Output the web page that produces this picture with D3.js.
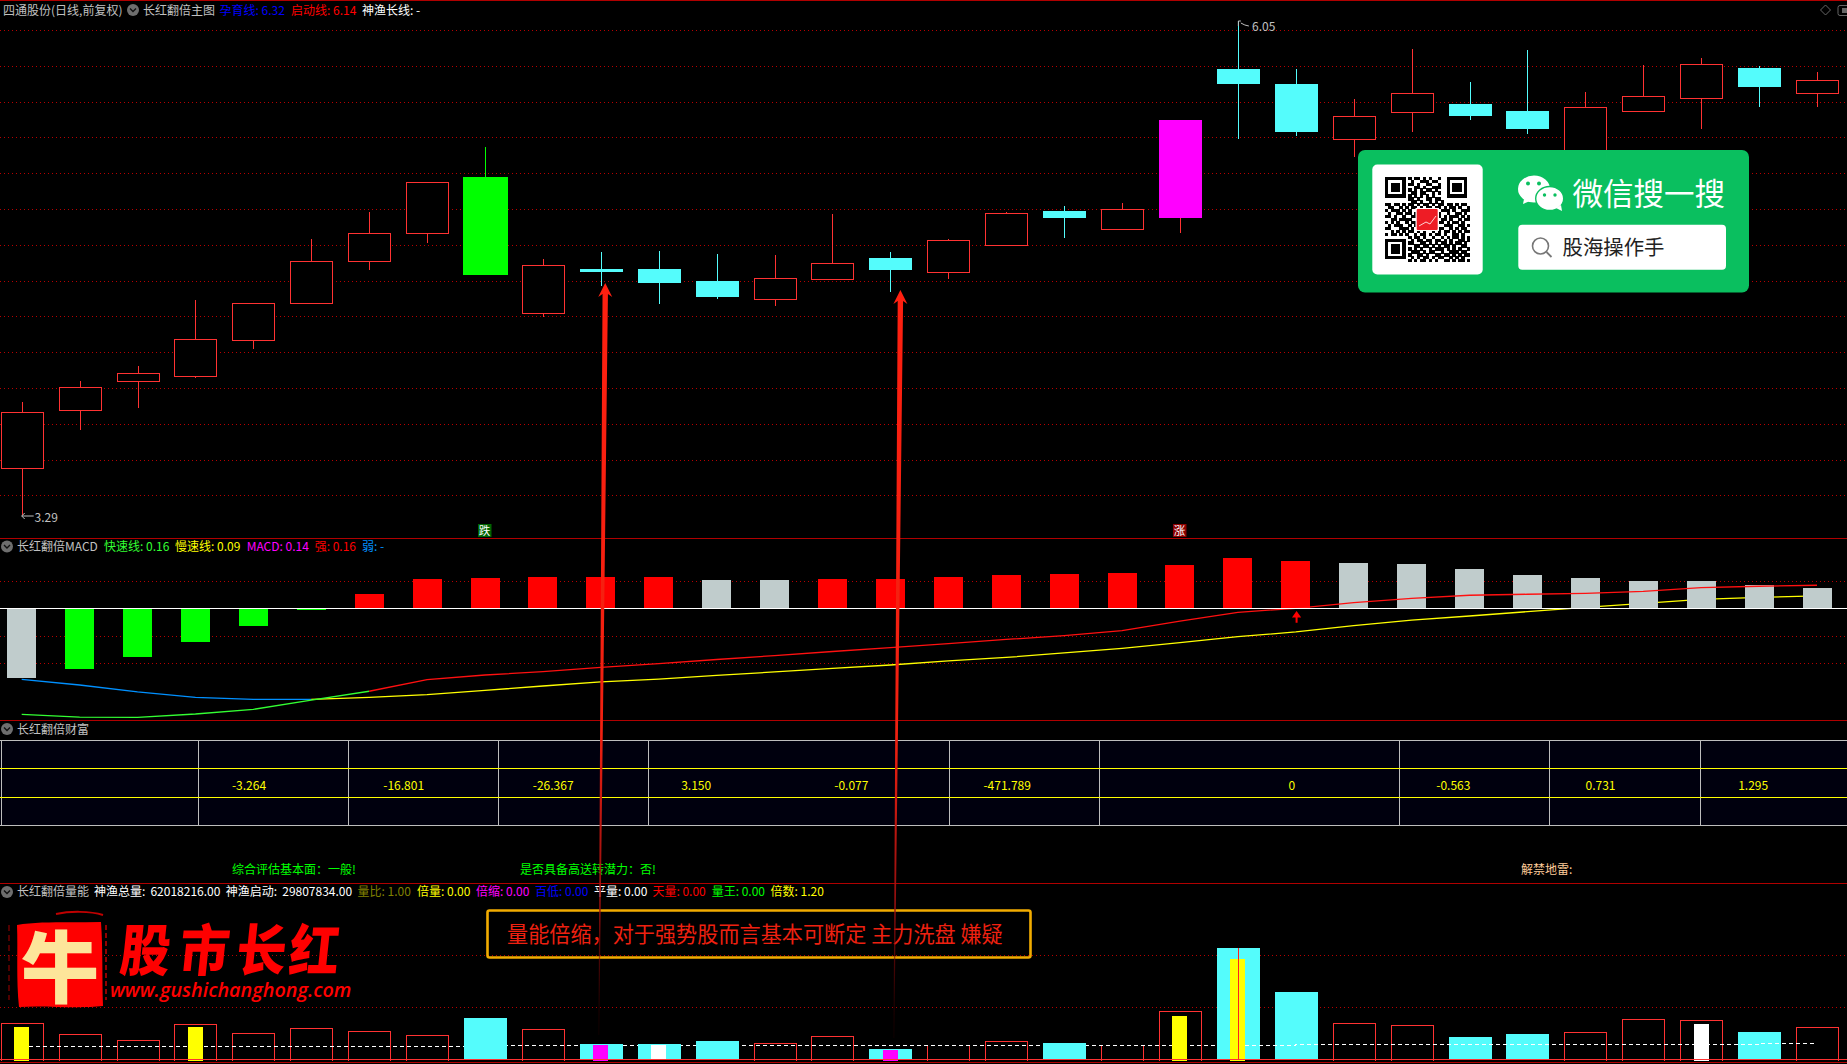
<!DOCTYPE html>
<html><head><meta charset="utf-8">
<style>html,body{margin:0;padding:0;background:#000;overflow:hidden}svg{display:block}
text{font-family:"Noto Sans CJK SC","Noto Sans",sans-serif;font-size:12px;dominant-baseline:central}</style>
<script src="https://cdn.jsdelivr.net/npm/d3@7/dist/d3.min.js"></script></head><body>
<script>
// ---------- data ----------
const opens=[3.549,3.873,4.040,4.063,4.269,4.471,4.705,4.862,5.178,4.415,4.664,4.664,4.597,4.493,4.605,4.726,4.644,4.795,4.988,4.884,4.949,5.782,5.698,5.389,5.538,5.586,5.547,5.190,5.543,5.616,5.787,5.644];
const closes=[3.864,4.003,4.082,4.272,4.473,4.707,4.864,5.149,4.631,4.685,4.648,4.586,4.508,4.613,4.696,4.659,4.825,4.976,4.949,4.998,5.497,5.698,5.430,5.518,5.646,5.519,5.447,5.568,5.629,5.808,5.681,5.719];
const highs=[3.921,4.037,4.122,4.491,4.473,4.832,4.981,5.149,5.346,4.720,4.759,4.765,4.748,4.743,4.972,4.759,4.832,4.983,5.016,5.033,5.497,6.05,5.782,5.614,5.892,5.709,5.888,5.653,5.804,5.843,5.799,5.765];
const lows=[3.29,3.765,3.888,4.055,4.217,4.471,4.659,4.811,4.631,4.398,4.571,4.469,4.497,4.458,4.605,4.536,4.607,4.795,4.838,4.884,4.866,5.391,5.408,5.290,5.430,5.497,5.419,5.190,5.543,5.447,5.570,5.570];
const priceGrid=[6.0,5.8,5.6,5.4,5.2,5.0,4.8,4.6,4.4,4.2,4.0,3.8,3.6,3.4];
const macdBars=[-0.480,-0.419,-0.336,-0.232,-0.122,-0.012,0.099,0.202,0.209,0.216,0.216,0.216,0.195,0.195,0.202,0.202,0.216,0.230,0.237,0.243,0.299,0.347,0.326,0.312,0.306,0.271,0.230,0.209,0.188,0.188,0.161,0.140];
const macdGrayIdx=[0,12,13,23,24,25,26,27,28,29,30,31];
const fastLine=[-0.731,-0.750,-0.752,-0.729,-0.697,-0.634,-0.572,-0.492,-0.460,-0.437,-0.407,-0.381,-0.353,-0.326,-0.298,-0.271,-0.243,-0.215,-0.188,-0.154,-0.088,-0.028,0,0.039,0.069,0.090,0.097,0.103,0.117,0.142,0.152,0.159];
const slowLine=[-0.490,-0.529,-0.577,-0.614,-0.628,-0.628,-0.614,-0.596,-0.566,-0.536,-0.508,-0.488,-0.463,-0.439,-0.415,-0.391,-0.363,-0.339,-0.308,-0.276,-0.237,-0.196,-0.163,-0.120,-0.081,-0.053,-0.023,0.007,0.034,0.062,0.076,0.085];
const macdGrid=[0.19,-0.19,-0.375];
const volumes=[13.9,9.7,7.4,13.5,10.1,12.0,10.8,9.3,15.9,11.6,6.0,6.0,7.1,6.3,8.9,4.1,5.5,7.0,6.4,5.5,18.5,42.6,25.8,13.9,13.1,8.7,9.8,10.5,15.4,15.0,10.6,12.4];
const volFilledIdx=[8,10,11,12,15,18,21,22,25,26,30];
const volInner=[[0,12.5,"#ffff00"],[3,12.5,"#ffff00"],[10,5.6,"#ff00ff"],[11,5.5,"#ffffff"],[15,3.7,"#ff00ff"],[20,16.7,"#ffff00"],[21,38.4,"#ffff00"],[29,13.6,"#ffffff"]];
const volMean=[5.1,5.1,5.1,5.1,5.1,5.1,5.1,5.1,5.5,5.5,5.5,5.5,5.5,5.5,5.5,5.5,5.5,5.5,5.5,5.5,5.5,5.5,5.9,5.9,5.9,5.9,5.9,5.9,5.9,5.9,6.3,6.3];
const volGrid=[20,40];
const tableValues=["-3.264","-16.801","-26.367","3.150","-0.077","-471.789","0","-0.563","0.731","1.295"];
const header1=["四通股份(日线,前复权)","长红翻倍主图","孕育线: 6.32","启动线: 6.14","神渔长线: -"];
const header2=["长红翻倍MACD","快速线: 0.16","慢速线: 0.09","MACD: 0.14","强: 0.16","弱: -"];
const header4=["长红翻倍量能","神渔总量: 62018216.00","神渔启动: 29807834.00","量比: 1.00","倍量: 0.00","倍缩: 0.00","百低: 0.00","平量: 0.00","天量: 0.00","量王: 0.00","倍数: 1.20"];
const notes=["综合评估基本面：一般!","是否具备高送转潜力：否!","解禁地雷:"];
const qrRows=["00000000101101010010000000000","00000000010011101100000000000","00000000110100110010000000000","00000000001101001110000000000","00000000101010110100000000000","00000000011011001010000000000","00000000101010101000000000000","00000000110100110110000000000","00000000011010010101000000000","11011010110101101011011010110","01100101011010110110101101001","10111010100110101001110100111","01001101101011010110010011010","11010010011001011010101110101","00110111100110100101101001011","10101001011010011011010110100","01011100101101100100111001101","11000111010010110111001010110","00101010110101001010110101011","10110101001011010110100110100","00000000101101001001010110101","00000000010110110110101001101","00000000110011010101101011010","00000000001101101010110100110","00000000101010010111010101001","00000000011101011001001110110","00000000100110100110110101011","00000000010101101011001010100","00000000101011010100110101101"];

// ---------- layout ----------
const W=1847,H=1064;
const paneLines=[0.5,538.5,720.5,883.5,1062.5];
const tableCols=[1,198,348,498,648,949,1099,1399,1549,1700];
const tableCenters=[249,403.7,553.2,696.2,851.3,1007.2,1291.9,1453.3,1600.5,1753.2];
const svg=d3.select("body").append("svg").attr("width",W).attr("height",H).attr("viewBox",`0 0 ${W} ${H}`);
svg.append("rect").attr("width",W).attr("height",H).attr("fill","#000");
const defs=svg.append("defs");
const crisp=svg.append("g").attr("shape-rendering","crispEdges");

const idx=d3.range(opens.length);
const x=d3.scaleLinear().domain([0,31]).range([21.7,1817]);
const yP=d3.scaleLinear().domain([3.29,6.05]).range([515,21]);
const yM=d3.scaleLinear().domain([-0.8,0.4]).range([724.3,550.3]);
const yV=d3.scaleLinear().domain([0,40]).range([1059.7,954.9]);
const px=v=>Math.round(v)+0.5;
const RED="#ff3232",CYAN="#54fcfc",GRID="#b80000",BORDER="#b00000";

function hGrid(vals,scale){
  crisp.append("g").selectAll("line").data(vals).join("line")
   .attr("x1",0).attr("x2",W).attr("y1",d=>px(scale(d))).attr("y2",d=>px(scale(d)))
   .attr("stroke",GRID).attr("stroke-dasharray","1,3");
}
hGrid(priceGrid,yP);hGrid(macdGrid,yM);hGrid(volGrid,yV);

crisp.append("g").selectAll("line").data(paneLines).join("line")
 .attr("x1",0).attr("x2",W).attr("y1",d=>d).attr("y2",d=>d).attr("stroke",BORDER).attr("stroke-width",1);

// candles
const highlight={8:"#00ff00",20:"#ff00ff"};
const hollow=i=>closes[i]>=opens[i]&&!highlight[i];
const wickCol=i=>i===8?"#00ff00":(closes[i]>=opens[i]?RED:CYAN);
const gC=crisp.append("g");
gC.selectAll(".wick").data(idx).join("line").attr("class","wick")
 .attr("x1",i=>px(x(i))).attr("x2",i=>px(x(i))).attr("y1",i=>yP(highs[i])).attr("y2",i=>yP(lows[i]))
 .attr("stroke",wickCol);
gC.selectAll(".body").data(idx).join("rect").attr("class","body")
 .attr("x",i=>Math.round(x(i)-(i===8?22:21))+(hollow(i)?0.5:0))
 .attr("width",i=>hollow(i)?42:(i===8?45:43))
 .attr("y",i=>Math.round(yP(Math.max(opens[i],closes[i])))+(hollow(i)?0.5:0))
 .attr("height",i=>Math.max(2,Math.round(Math.abs(yP(opens[i])-yP(closes[i])))))
 .attr("fill",i=>highlight[i]||(closes[i]>=opens[i]?"#000":CYAN))
 .attr("stroke",i=>hollow(i)?RED:"none");

function label(sel,str,xp,yp,col,anchor){return sel.append("text").attr("x",xp).attr("y",yp).attr("fill",col).attr("text-anchor",anchor||"start").text(str);}
// extreme labels
const hiI=highs.indexOf(d3.max(highs)),loI=lows.indexOf(d3.min(lows));
svg.append("path").attr("d",`M${x(hiI)+.5},${yP(highs[hiI])+5}V${yP(highs[hiI])}H${x(hiI)+3}M${x(hiI)+3},${yP(highs[hiI])+2}l4,2l4,1`).attr("fill","none").attr("stroke","#c0c0c0");
label(svg,d3.format(".2f")(highs[hiI]),1252,25.5,"#c0c0c0");
svg.append("path").attr("d",`M${x(loI)+12},${yP(lows[loI])+1}H${x(loI)}m3,-3l-3,3l3,3`).attr("fill","none").attr("stroke","#c0c0c0");
label(svg,d3.format(".2f")(lows[loI]),34.5,516.3,"#c0c0c0");

// 跌 / 涨 tags
[[8,"跌","#006400"],[20,"涨","#8b0000"]].forEach(([i,t,c])=>{
  svg.append("rect").attr("x",x(i)-7).attr("y",524).attr("width",13.5).attr("height",13).attr("fill",c);
  label(svg,t,x(i)-0.5,529.8,"#fff","middle").style("font-size","11.5px");
});

// MACD
const seg=(arr,a,b,col,g)=>g.append("path").attr("fill","none").attr("stroke",col).attr("stroke-width",1.3)
  .attr("d",d3.line().x(i=>x(i)).y(i=>yM(arr[i])).curve(d3.curveLinear)(d3.range(a,b+1)));
const gM=svg.append("g");
seg(slowLine,0,5,"#0090ff",gM);seg(slowLine,5,31,"#ffff00",gM);
const gBar=svg.append("g").attr("shape-rendering","crispEdges");
gBar.selectAll("rect").data(idx).join("rect")
 .attr("x",i=>Math.round(x(i)-14.5)).attr("width",29)
 .attr("y",i=>Math.round(macdBars[i]>=0?yM(macdBars[i]):yM(0)))
 .attr("height",i=>Math.max(1,Math.round(Math.abs(yM(macdBars[i])-yM(0)))))
 .attr("fill",i=>macdGrayIdx.includes(i)?"#c0cccc":(macdBars[i]<0?"#00ff00":"#ff0000"));
const gF=svg.append("g");
seg(fastLine,0,6,"#33ff33",gF);seg(fastLine,6,31,"#ff1010",gF);
svg.append("line").attr("x1",0).attr("x2",W).attr("y1",yM(0)).attr("y2",yM(0)).attr("stroke","#fff").attr("stroke-width",1.4).attr("shape-rendering","crispEdges");
{const ax=x(22)+.8,at=yM(-0.019),ab=yM(-0.099);
 svg.append("path").attr("fill","#ff0000").attr("d",`M${ax},${at}L${ax+4.6},${at+6.5}H${ax+1}V${ab}H${ax-1}V${at+6.5}H${ax-4.6}Z`);}

// table
const gT=svg.append("g").attr("shape-rendering","crispEdges");
gT.append("rect").attr("x",0).attr("y",740.5).attr("width",W).attr("height",85).attr("fill","#00000e");
gT.selectAll(".c").data(tableCols).join("line").attr("class","c").attr("x1",d=>d+.5).attr("x2",d=>d+.5).attr("y1",740.5).attr("y2",825.5).attr("stroke","#bdbdbd");
[740.5,825.5].forEach(y=>gT.append("line").attr("x1",0).attr("x2",W).attr("y1",y).attr("y2",y).attr("stroke","#bdbdbd"));
[768.5,797.5].forEach(y=>gT.append("line").attr("x1",0).attr("x2",W).attr("y1",y).attr("y2",y).attr("stroke","#ffff00"));
svg.append("g").selectAll("text").data(tableValues).join("text").attr("x",(d,i)=>tableCenters[i]).attr("y",784).attr("text-anchor","middle").attr("fill","#ffff00").text(d=>d);
const noteX=[232,520,1521],noteC=["#00ff00","#00ff00","#ffcc99"];
svg.append("g").selectAll("text").data(notes).join("text").attr("x",(d,i)=>noteX[i]).attr("y",868).attr("fill",(d,i)=>noteC[i]).text(d=>d);

// volume
const isFill=i=>volFilledIdx.includes(i);
const gV=svg.append("g").attr("shape-rendering","crispEdges");
const dash=(a,b,g)=>g.append("path").attr("fill","none").attr("stroke","#fff").attr("stroke-width",1.2).attr("stroke-dasharray","4,3")
  .attr("d",d3.line().x(i=>x(i)).y(i=>Math.round(yV(volMean[i]))+.5).curve(d3.curveStepAfter)(d3.range(a,b+1)));
const hollowIdx=idx.filter(i=>!isFill(i)),fillIdx=idx.filter(isFill);
// hollow bars lose their cap when the mean line sits on top of it
gV.selectAll(".vh").data(hollowIdx).join("path").attr("class","vh").attr("fill","none").attr("stroke",RED)
 .attr("d",i=>{const l=Math.round(x(i)-21)+.5,r=l+42,t=Math.round(yV(volumes[i]))+.5,b=Math.round(yV(0))+.5;
   return volumes[i]>volMean[i]?`M${l},${b}V${t}H${r}V${b}`:`M${l},${b}V${t}M${r},${t}V${b}`;});
dash(0,21,gV);
gV.selectAll(".vb").data(fillIdx).join("rect").attr("class","vb")
 .attr("x",i=>Math.round(x(i)-21)).attr("width",43)
 .attr("y",i=>Math.round(yV(volumes[i])))
 .attr("height",i=>Math.round(yV(0)-yV(volumes[i])))
 .attr("fill",CYAN);
dash(21,31,gV);
gV.selectAll(".vi").data(volInner).join("rect").attr("class","vi")
 .attr("x",d=>Math.round(x(d[0])-7.5)).attr("width",15)
 .attr("y",d=>Math.round(yV(d[1]))).attr("height",d=>Math.round(yV(0)-yV(d[1])+1))
 .attr("fill",d=>d[2]);
gV.append("line").attr("x1",px(x(21))).attr("x2",px(x(21))).attr("y1",yV(volumes[21])).attr("y2",yV(0)).attr("stroke","#ff2020");
gV.append("line").attr("x1",0).attr("x2",W).attr("y1",1059.5).attr("y2",1059.5).attr("stroke",RED);

// headers
function collapseIcon(cx,cy){
  svg.append("circle").attr("cx",cx).attr("cy",cy).attr("r",6).attr("fill","#6e6e6e");
  svg.append("path").attr("d",`M${cx-3},${cy-1.5}L${cx},${cy+1.5}L${cx+3},${cy-1.5}`).attr("fill","none").attr("stroke","#111").attr("stroke-width",1.4);
}
function headerRow(strs,xs,cols,y,wide){svg.append("g").selectAll("text").data(strs).join("text").attr("x",(d,i)=>xs[i]).attr("y",y).attr("fill",(d,i)=>cols[i]).style("word-spacing",(d,i)=>wide&&wide.includes(i)?"2.4px":null).text(d=>d);}
headerRow(header1,[3,143,219.5,291,362],["#c0c0c0","#c0c0c0","#0000ff","#ff0000","#ffffff"],9.5);
collapseIcon(133,10);
headerRow(header2,[17,104,175,246.7,314.7,362],["#c0c0c0","#33ff33","#ffff00","#ff00ff","#ff0000","#0090ff"],545.5);
collapseIcon(7,546.5);
headerRow(["长红翻倍财富"],[17],["#c0c0c0"],728);
collapseIcon(7,729);
headerRow(header4,[17,94,225.8,357.5,417,476,535,594,652.4,711.7,770.6],["#c0c0c0","#fff","#fff","#808000","#ffff00","#ff00ff","#0000ff","#fff","#ff0000","#00ff00","#ffff00"],890.5,[1,2]);
collapseIcon(7,892);
// top right window icons
svg.append("path").attr("d",`M1825.5,5l5,5l-5,5l-5,-5Z`).attr("fill","none").attr("stroke","#666");
svg.append("rect").attr("x",1838).attr("y",5.5).attr("width",12).attr("height",10).attr("rx",2).attr("fill","none").attr("stroke","#666");
svg.append("rect").attr("x",1842).attr("y",8).attr("width",5).attr("height",5).attr("fill","#666");

// logo
const logoPath="M17,925 C40,921 70,923 101,922 C103,950 102,980 103,1006 C75,1009 45,1005 19,1007 C16,980 18,950 17,925Z";
svg.append("path").attr("d",logoPath).attr("fill","#fe0000");
svg.append("path").attr("d","M56,914 C70,911 90,911 103,915").attr("fill","none").attr("stroke","#c00000").attr("stroke-width",2);
svg.append("path").attr("d","M106,925V1000").attr("fill","none").attr("stroke","#c00000").attr("stroke-width",1.5).attr("stroke-dasharray","5,3");
svg.append("path").attr("d","M9,925V1000").attr("fill","none").attr("stroke","#a00000").attr("stroke-width",1).attr("stroke-dasharray","6,4");
label(svg,"牛",60,963,"#fde59a","middle").style("font-size","78px").style("font-weight",900);
const brand=["股","市","长","红"],brandX=[146,205,262,315];
svg.append("g").selectAll("text").data(brand).join("text").attr("transform",(d,i)=>`translate(${brandX[i]},946) skewX(-6) scale(1,1.12)`).attr("text-anchor","middle").attr("fill","#fe0000").style("font-size","50px").style("font-weight",900).text(d=>d);
label(svg,"www.gushichanghong.com",110,989,"#fe0000").style("font-family","'Open Sans'").style("font-style","italic").style("font-size","19.8px").style("font-weight",600);

// annotation box
svg.append("rect").attr("x",487.5).attr("y",910.5).attr("width",543).attr("height",47).attr("rx",2).attr("fill","none").attr("stroke","#f2ac00").attr("stroke-width",2.6);
label(svg,"量能倍缩，对于强势股而言基本可断定 主力洗盘 嫌疑",507,932,"#ee2010").style("font-size","21.15px");

// long annotation arrows
function bigArrow(id,tipX,tipY,baseX,baseY){
  const g=defs.append("linearGradient").attr("id",id).attr("gradientUnits","userSpaceOnUse").attr("x1",0).attr("x2",0).attr("y1",tipY).attr("y2",baseY);
  [[0,"#ff2010",1],[.6,"#f02010",1],[.82,"#a01010",.9],[1,"#500000",.2]].forEach(s=>g.append("stop").attr("offset",s[0]).attr("stop-color",s[1]).attr("stop-opacity",s[2]));
  svg.append("path").attr("fill",`url(#${id})`).attr("d",`M${tipX},${tipY}L${tipX+7},${tipY+14}L${tipX+2.7},${tipY+11}L${baseX+.4},${baseY}H${baseX-.4}L${tipX-2.7},${tipY+11}L${tipX-7},${tipY+14}Z`);
}
bigArrow("a1",x(10)+4.4,yP(4.586),x(10)-2,1035);
bigArrow("a2",x(15)+10,yP(4.547),x(15)+3.5,1038);

// WeChat card
const GREEN="#0abf5f";
svg.append("rect").attr("x",1358).attr("y",150).attr("width",391).attr("height",142.5).attr("rx",7).attr("fill",GREEN);
svg.append("rect").attr("x",1372.3).attr("y",164.5).attr("width",110.4).attr("height",110).attr("rx",5).attr("fill","#fff");
const qx=1384.7,qy=176.7,qs=85.4/29;
const gQ=svg.append("g").attr("shape-rendering","crispEdges");
const cells=[];qrRows.forEach((r,j)=>r.split("").forEach((c,i)=>{if(c==="1")cells.push([i,j])}));
[[0,0],[21,0],[0,21]].forEach(([ox,oy])=>{for(let j=0;j<7;j++)for(let i=0;i<7;i++){
  if(i===0||i===6||j===0||j===6||(i>=2&&i<=4&&j>=2&&j<=4))cells.push([ox+i,oy+j]);}});
gQ.selectAll("rect").data(cells).join("rect").attr("x",d=>qx+d[0]*qs).attr("y",d=>qy+d[1]*qs).attr("width",qs+.3).attr("height",qs+.3).attr("fill","#000");
svg.append("rect").attr("x",1415.5).attr("y",208).attr("width",23.5).attr("height",23).attr("fill","#fff");
svg.append("rect").attr("x",1416.7).attr("y",209).attr("width",21).attr("height",21).attr("rx",1).attr("fill","#ee1c25");
svg.append("path").attr("d","M1419,226L1426,222L1430,224L1436,216").attr("fill","none").attr("stroke","#fff").attr("stroke-width",.8);
// wechat bubbles
svg.append("ellipse").attr("cx",1534).attr("cy",189).attr("rx",16).attr("ry",13.5).attr("fill","#fff");
svg.append("path").attr("d","M1524,199l-1,5l7,-3Z").attr("fill","#fff");
svg.append("ellipse").attr("cx",1549.7).attr("cy",198.5).attr("rx",14).attr("ry",12).attr("fill","#fff").attr("stroke",GREEN).attr("stroke-width",1.4);
svg.append("path").attr("d","M1556,208l6,3l-1,-6Z").attr("fill","#fff");
[[1528,183.5,2],[1539,183.5,2],[1544.5,195,1.7],[1555,195,1.7]].forEach(d=>svg.append("circle").attr("cx",d[0]).attr("cy",d[1]).attr("r",d[2]).attr("fill",GREEN));
label(svg,"微信搜一搜",1572.5,191.5,"#fff").style("font-size","30.5px").style("font-weight",400);
svg.append("rect").attr("x",1518.3).attr("y",224.7).attr("width",207.7).attr("height",45).attr("rx",4).attr("fill","#fff");
svg.append("circle").attr("cx",1540.5).attr("cy",246).attr("r",8).attr("fill","none").attr("stroke","#777").attr("stroke-width",1.6);
svg.append("line").attr("x1",1546.5).attr("y1",252).attr("x2",1551.5).attr("y2",257).attr("stroke","#777").attr("stroke-width",1.8);
label(svg,"股海操作手",1562.5,246,"#222").style("font-size","20.4px");
</script></body></html>
